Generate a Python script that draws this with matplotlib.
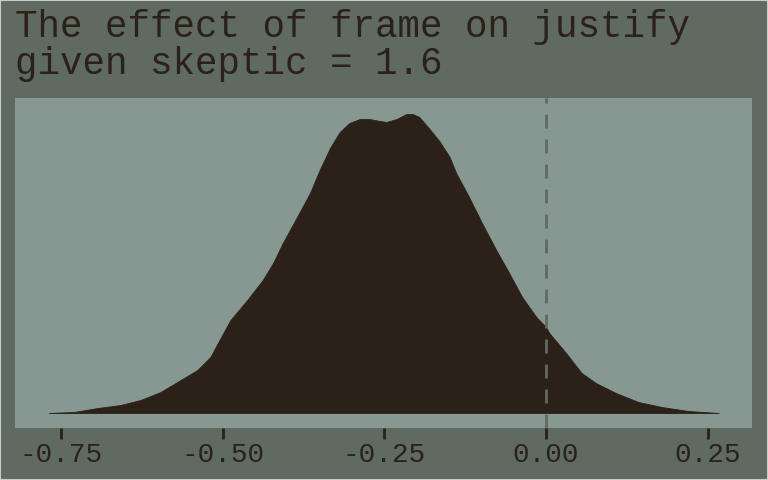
import matplotlib
matplotlib.use("Agg")
import matplotlib.pyplot as plt
from matplotlib.patches import Rectangle

plt.rcParams['axes.unicode_minus'] = False

# Density outline
effect = [-0.769, -0.730, -0.693, -0.658, -0.627, -0.596, -0.565, -0.539, -0.519,
          -0.504, -0.488, -0.462, -0.438, -0.422, -0.407, -0.385, -0.365, -0.350,
          -0.334, -0.319, -0.304, -0.288, -0.273, -0.257, -0.247, -0.231, -0.216,
          -0.206, -0.196, -0.180, -0.165, -0.149, -0.139, -0.119, -0.099, -0.077,
          -0.057, -0.037, -0.015, 0.000, 0.005, 0.031, 0.055, 0.077, 0.108,
          0.143, 0.179, 0.220, 0.267]
density = [0.00, 0.01, 0.05, 0.08, 0.13, 0.21, 0.33, 0.43, 0.56,
           0.74, 0.93, 1.13, 1.33, 1.50, 1.70, 1.96, 2.20, 2.43,
           2.65, 2.81, 2.90, 2.94, 2.94, 2.92, 2.91, 2.94, 2.99,
           2.99, 2.96, 2.84, 2.72, 2.56, 2.40, 2.16, 1.90, 1.63,
           1.40, 1.16, 0.96, 0.86, 0.80, 0.60, 0.40, 0.30, 0.20,
           0.11, 0.06, 0.02, 0.00]
xticks = [-0.75, -0.50, -0.25, 0.00, 0.25]
xticklabels = ["-0.75", "-0.50", "-0.25", "0.00", "0.25"]
title = "The effect of frame on justify\ngiven skeptic = 1.6"

bg = "#5f6a60"
panel = "#879893"
ink = "#2b2119"

fig = plt.figure(figsize=(7.68, 4.8), dpi=100, facecolor=bg)
W, H = 768, 480
ax = fig.add_axes([15 / W, 1 - 428 / H, (752 - 15) / W, (428 - 98) / H])
ax.set_facecolor(panel)
for s in ax.spines.values():
    s.set_visible(False)

ax.fill_between(effect, 0, density, color=ink, lw=0.6, edgecolor=ink, zorder=2)
ax.axvline(0, color="#5f6a60", lw=2, ls=(0, (5, 4)), zorder=3)

ax.set_xlim(-0.821, 0.3185)
ax.set_ylim(-0.15, 3.15)
ax.set_yticks([])
ax.set_xticks(xticks)
ax.set_xticklabels(xticklabels, family="Liberation Mono", fontsize=20, color=ink)
ax.tick_params(axis="x", length=8, width=2, color=ink, pad=2)

fig.text(15 / W, 1 - 9 / H, title, family="Liberation Mono", fontsize=27,
         color=ink, ha="left", va="top", linespacing=1.05)

fig.patches.append(Rectangle((0, 0), 1, 1, transform=fig.transFigure,
                             fill=False, edgecolor="#c8ccc8", lw=1.5))

fig.savefig("out.png", dpi=100, facecolor=bg)
